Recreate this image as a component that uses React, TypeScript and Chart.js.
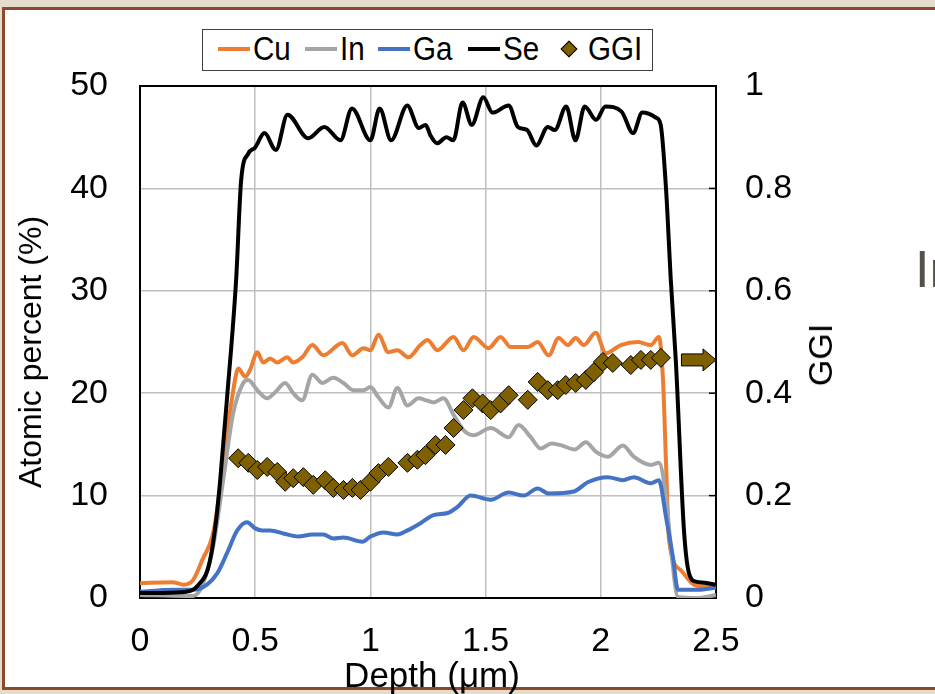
import React, { useEffect, useRef } from 'react';
import { Chart, registerables } from 'chart.js';

Chart.register(...registerables);

// ---- data (depth in µm, atomic percent in %) ----
const cuDepth = [0, 0.14, 0.19, 0.23, 0.27, 0.32, 0.36, 0.40, 0.427, 0.457, 0.478, 0.509, 0.535, 0.565, 0.596, 0.639, 0.665, 0.704, 0.748, 0.796, 0.878, 0.922, 0.970, 1.0, 1.035, 1.078, 1.117, 1.165, 1.217, 1.248, 1.291, 1.361, 1.404, 1.448, 1.513, 1.565, 1.609, 1.683, 1.726, 1.774, 1.817, 1.857, 1.891, 1.926, 1.978, 2.022, 2.087, 2.161, 2.217, 2.252, 2.27, 2.283, 2.296, 2.348, 2.404, 2.465, 2.5];
const cuPercent = [1.45, 1.55, 1.3, 1.75, 3.7, 6.6, 13, 19.6, 22.4, 21.6, 22.3, 24, 23, 23.4, 23, 23.5, 23, 23.5, 24.7, 23.7, 24.9, 23.7, 24.4, 24.2, 25.7, 24, 24.2, 23.5, 24.7, 25.2, 24.2, 25.5, 24.2, 25.5, 24.4, 25.5, 24.5, 24.5, 25, 23.7, 25.4, 24.7, 25.4, 24.7, 25.9, 23.9, 24.7, 25, 24.7, 25.5, 21.3, 13.2, 5.7, 2.7, 1.3, 1.1, 1.1];

const inDepth = [0, 0.2, 0.23, 0.27, 0.317, 0.361, 0.404, 0.448, 0.47, 0.509, 0.552, 0.587, 0.63, 0.665, 0.704, 0.748, 0.791, 0.839, 0.883, 0.926, 0.97, 1.0, 1.035, 1.078, 1.117, 1.161, 1.209, 1.243, 1.274, 1.317, 1.361, 1.404, 1.448, 1.522, 1.6, 1.643, 1.696, 1.739, 1.787, 1.83, 1.887, 1.935, 1.978, 2.03, 2.096, 2.143, 2.217, 2.252, 2.283, 2.304, 2.335, 2.422, 2.5];
const inPercent = [0.3, 0.2, 0.2, 1.2, 5, 11.5, 18, 21, 21.3, 20.3, 19.5, 20.1, 21, 20, 19.3, 21.8, 21, 21.5, 21, 20.3, 20.3, 20.6, 19.6, 18.6, 20.5, 18.8, 19.5, 19.3, 19.1, 19.5, 17.9, 16.4, 15.9, 16.6, 15.7, 16.9, 15.7, 14.6, 15.1, 14.9, 14.5, 15.2, 14.3, 13.8, 14.9, 13.8, 13, 13.2, 9.9, 5, 0.1, 0, 0.3];

const gaDepth = [0, 0.143, 0.23, 0.291, 0.335, 0.378, 0.422, 0.465, 0.5, 0.53, 0.565, 0.622, 0.687, 0.748, 0.796, 0.839, 0.883, 0.965, 1.0, 1.057, 1.117, 1.161, 1.217, 1.274, 1.335, 1.378, 1.435, 1.522, 1.6, 1.665, 1.726, 1.774, 1.883, 1.943, 2.03, 2.096, 2.143, 2.217, 2.252, 2.283, 2.313, 2.335, 2.422, 2.5];
const gaPercent = [0.6, 0.8, 0.8, 1.3, 2.4, 4.4, 6.6, 7.4, 6.8, 6.6, 6.6, 6.3, 6, 6.2, 6.2, 5.8, 5.9, 5.5, 6, 6.4, 6.2, 6.6, 7.3, 8.1, 8.3, 8.9, 10, 9.6, 10.3, 10, 10.7, 10.2, 10.4, 11.3, 11.8, 11.5, 11.8, 11.2, 11.5, 7.9, 4, 0.8, 0.8, 1];

const seDepth = [0, 0.1, 0.2, 0.25, 0.3, 0.33, 0.348, 0.378, 0.417, 0.439, 0.47, 0.50, 0.54, 0.59, 0.64, 0.73, 0.80, 0.87, 0.92, 1.0, 1.04, 1.09, 1.16, 1.21, 1.24, 1.26, 1.29, 1.33, 1.36, 1.40, 1.44, 1.49, 1.53, 1.60, 1.64, 1.68, 1.72, 1.77, 1.80, 1.85, 1.89, 1.93, 1.98, 2.02, 2.09, 2.14, 2.18, 2.24, 2.26, 2.283, 2.304, 2.326, 2.361, 2.383, 2.413, 2.45, 2.5];
const sePercent = [0.5, 0.5, 0.6, 1.2, 3.3, 7.5, 11.5, 19.6, 31, 40.8, 43.4, 44, 45.4, 43.75, 47.2, 44.9, 46, 44.7, 47.8, 44.7, 47.8, 44.7, 48.1, 45.9, 46.2, 45.2, 44.4, 45, 44.7, 48.4, 46.2, 48.9, 47.4, 48.1, 46, 45.7, 44.2, 46, 45.7, 48, 44.7, 48, 46.7, 48, 47.5, 45.4, 47.4, 46.9, 46.2, 40, 31, 23, 6.6, 2.4, 1.6, 1.5, 1.3];

const ggiDepth = [0.426, 0.47, 0.509, 0.552, 0.596, 0.63, 0.665, 0.709, 0.752, 0.804, 0.839, 0.883, 0.922, 0.957, 1.0, 1.035, 1.078, 1.161, 1.204, 1.239, 1.283, 1.326, 1.361, 1.404, 1.443, 1.487, 1.522, 1.565, 1.6, 1.683, 1.726, 1.77, 1.813, 1.848, 1.891, 1.935, 1.97, 2.009, 2.052, 2.13, 2.174, 2.217, 2.261];
const ggiValue = [0.273, 0.264, 0.25, 0.256, 0.246, 0.227, 0.234, 0.236, 0.221, 0.23, 0.215, 0.211, 0.215, 0.211, 0.227, 0.244, 0.256, 0.264, 0.27, 0.279, 0.299, 0.299, 0.332, 0.367, 0.39, 0.38, 0.367, 0.38, 0.396, 0.387, 0.422, 0.406, 0.406, 0.416, 0.42, 0.426, 0.441, 0.461, 0.459, 0.455, 0.465, 0.465, 0.469];

// arrow marking that GGI belongs to the right axis
const arrowFromDepth = 2.35;
const arrowToDepth = 2.5;
const arrowGGI = 0.465;

const xTicks = { min: 0, max: 2.5, step: 0.5 };
const yTicks = { min: 0, max: 50, step: 10 };
const y2Ticks = { min: 0, max: 1, step: 0.2 };

const FONT = '"Liberation Sans", Arial, Helvetica, sans-serif';
const GGI_COLOR = '#7F6000';

const toXY = (xs: number[], ys: number[]) => xs.map((x, i) => ({ x, y: ys[i] }));
const fmt = (v: any) => String(Math.round(Number(v) * 100) / 100);

const framePlugin = {
  id: 'frameAndArrow',
  beforeDatasetsDraw(chart: any) {
    const { ctx, chartArea } = chart;
    const { left, right, top, bottom } = chartArea;
    ctx.save();
    ctx.strokeStyle = '#000';
    ctx.lineWidth = 2;
    ctx.strokeRect(left, top, right - left, bottom - top);
    const y2 = chart.scales.y2;
    ctx.lineWidth = 1.5;
    y2.ticks.forEach((t: any) => {
      const py = y2.getPixelForValue(t.value);
      ctx.beginPath();
      ctx.moveTo(right - 7, py);
      ctx.lineTo(right, py);
      ctx.stroke();
    });
    ctx.restore();
  },
  afterDatasetsDraw(chart: any) {
    const { ctx } = chart;
    const xs = chart.scales.x;
    const ys = chart.scales.y2;
    const x0 = xs.getPixelForValue(arrowFromDepth);
    const x2 = xs.getPixelForValue(arrowToDepth);
    const cy = ys.getPixelForValue(arrowGGI);
    const head = 13, bodyH = 6, headH = 11;
    ctx.save();
    ctx.beginPath();
    ctx.moveTo(x0, cy - bodyH);
    ctx.lineTo(x2 - head, cy - bodyH);
    ctx.lineTo(x2 - head, cy - headH);
    ctx.lineTo(x2, cy);
    ctx.lineTo(x2 - head, cy + headH);
    ctx.lineTo(x2 - head, cy + bodyH);
    ctx.lineTo(x0, cy + bodyH);
    ctx.closePath();
    ctx.fillStyle = GGI_COLOR;
    ctx.fill();
    ctx.strokeStyle = '#000';
    ctx.lineWidth = 1;
    ctx.stroke();
    ctx.restore();
  },
};

const lineDs = (label: string, xs: number[], ys: number[], color: string, order: number) => ({
  label,
  data: toXY(xs, ys),
  borderColor: color,
  backgroundColor: color,
  borderWidth: 4,
  pointRadius: 0,
  cubicInterpolationMode: 'monotone' as const,
  fill: false,
  yAxisID: 'y',
  order,
});

export default function App() {
  const canvasRef = useRef<HTMLCanvasElement | null>(null);

  useEffect(() => {
    if (!canvasRef.current) return;
    Chart.defaults.font.family = FONT;
    Chart.defaults.color = '#000';
    const tickFont = { family: FONT, size: 34 };
    const chart = new Chart(canvasRef.current, {
      type: 'line',
      data: {
        datasets: [
          lineDs('Cu', cuDepth, cuPercent, '#ED7D31', 5),
          lineDs('In', inDepth, inPercent, '#A5A5A5', 4),
          lineDs('Ga', gaDepth, gaPercent, '#4472C4', 3),
          lineDs('Se', seDepth, sePercent, '#000000', 2),
          {
            label: 'GGI',
            data: toXY(ggiDepth, ggiValue),
            showLine: false,
            pointStyle: 'rectRot',
            pointRadius: 9.5,
            pointHoverRadius: 9.5,
            pointBackgroundColor: GGI_COLOR,
            pointBorderColor: '#000',
            pointBorderWidth: 1,
            borderColor: GGI_COLOR,
            backgroundColor: GGI_COLOR,
            yAxisID: 'y2',
            order: 1,
          } as any,
        ],
      },
      options: {
        responsive: false,
        animation: false,
        events: [],
        layout: { padding: { top: 86, left: 0, right: 0, bottom: 0 } },
        plugins: { legend: { display: false }, tooltip: { enabled: false } },
        scales: {
          x: {
            type: 'linear',
            position: 'bottom',
            min: xTicks.min,
            max: xTicks.max,
            ticks: { stepSize: xTicks.step, font: tickFont, color: '#000', padding: 23, maxRotation: 0, autoSkip: false, callback: fmt },
            grid: { color: '#BFBFBF', lineWidth: 1.5, drawTicks: false },
            border: { display: false },
            afterFit: (s: any) => { s.height = 96; },
          },
          y: {
            type: 'linear',
            position: 'left',
            min: yTicks.min,
            max: yTicks.max,
            ticks: { stepSize: yTicks.step, font: tickFont, color: '#000', padding: 32, callback: fmt },
            grid: { color: '#BFBFBF', lineWidth: 1.5, drawTicks: false },
            border: { display: false },
            afterFit: (s: any) => { s.width = 140; },
          },
          y2: {
            type: 'linear',
            position: 'right',
            min: y2Ticks.min,
            max: y2Ticks.max,
            ticks: { stepSize: y2Ticks.step, font: tickFont, color: '#000', padding: 29, callback: fmt },
            grid: { display: false, drawTicks: false },
            border: { display: false },
            afterFit: (s: any) => { s.width = 219; },
          },
        },
      } as any,
      plugins: [framePlugin],
    });
    return () => chart.destroy();
  }, []);

  const legendText: React.CSSProperties = {
    position: 'absolute',
    top: 31,
    fontSize: 34,
    lineHeight: '34px',
    color: '#000',
    whiteSpace: 'nowrap',
    transform: 'scaleX(0.87)',
    transformOrigin: 'left center',
  };
  const legendLine = (left: number, color: string): React.CSSProperties => ({
    position: 'absolute',
    left,
    top: 47,
    width: 32,
    height: 4,
    background: color,
  });

  return (
    <div
      style={{
        position: 'fixed',
        left: 0,
        top: 0,
        width: 935,
        height: 694,
        overflow: 'hidden',
        background: '#E6DCCB',
        fontFamily: FONT,
      }}
    >
      <div
        style={{
          position: 'absolute',
          left: 2,
          top: 7,
          width: 980,
          height: 677,
          background: '#FFFFFF',
          border: '3px solid #8B4A2B',
        }}
      />
      <div
        style={{
          position: 'absolute',
          left: 915,
          top: 243,
          fontSize: 52,
          lineHeight: '52px',
          color: '#555048',
          whiteSpace: 'nowrap',
        }}
      >
        In
      </div>
      <canvas
        ref={canvasRef}
        width={935}
        height={694}
        style={{ position: 'absolute', left: 0, top: 0, width: 935, height: 694 }}
      />
      {/* legend */}
      <div
        style={{
          position: 'absolute',
          left: 202,
          top: 29,
          width: 451,
          height: 42,
          border: '1.5px solid #404040',
          background: '#fff',
          boxSizing: 'border-box',
        }}
      />
      <div style={legendLine(218, '#ED7D31')} />
      <div style={{ ...legendText, left: 253 }}>Cu</div>
      <div style={legendLine(305, '#A5A5A5')} />
      <div style={{ ...legendText, left: 340 }}>In</div>
      <div style={legendLine(378, '#4472C4')} />
      <div style={{ ...legendText, left: 413 }}>Ga</div>
      <div style={legendLine(468, '#000000')} />
      <div style={{ ...legendText, left: 503 }}>Se</div>
      <div
        style={{
          position: 'absolute',
          left: 563,
          top: 43,
          width: 12,
          height: 12,
          background: GGI_COLOR,
          border: '1px solid #000',
          boxSizing: 'border-box',
          transform: 'rotate(45deg)',
        }}
      />
      <div style={{ ...legendText, left: 588 }}>GGI</div>
      {/* axis titles */}
      <div
        style={{
          position: 'absolute',
          left: 30,
          top: 352,
          fontSize: 32,
          lineHeight: '32px',
          whiteSpace: 'nowrap',
          color: '#000',
          transform: 'translate(-50%, -50%) rotate(-90deg)',
        }}
      >
        Atomic percent (%)
      </div>
      <div
        style={{
          position: 'absolute',
          left: 820,
          top: 355,
          fontSize: 34,
          lineHeight: '34px',
          whiteSpace: 'nowrap',
          color: '#000',
          transform: 'translate(-50%, -50%) rotate(-90deg)',
        }}
      >
        GGI
      </div>
      <div
        style={{
          position: 'absolute',
          left: 432,
          top: 657,
          fontSize: 35,
          lineHeight: '35px',
          whiteSpace: 'nowrap',
          color: '#000',
          transform: 'translateX(-50%)',
        }}
      >
        Depth (μm)
      </div>
    </div>
  );
}
